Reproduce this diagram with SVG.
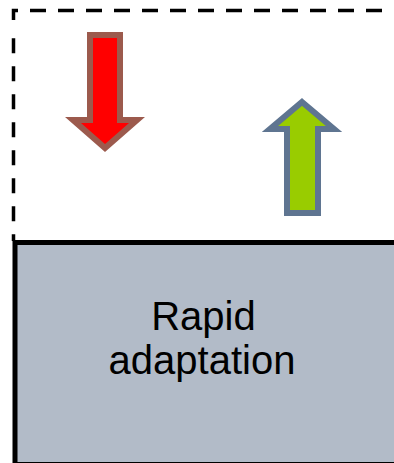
<svg xmlns="http://www.w3.org/2000/svg" width="394" height="463" viewBox="0 0 394 463">
<defs>
<style>
.dash{fill:none;stroke:#000;stroke-width:3.5}
.label{font-family:"Liberation Sans",Arial,sans-serif;font-size:40px;fill:#000;text-anchor:middle}
</style>
</defs>
<rect width="394" height="463" fill="#fff"/>
<g id="region-top">
<path class="dash" d="M13.5,20 V10.5 H18"/>
<line class="dash" x1="30" y1="10.5" x2="394" y2="10.5" stroke-dasharray="16 12"/>
<line class="dash" x1="13.5" y1="38.3" x2="13.5" y2="241" stroke-dasharray="15 13"/>
</g>
<g id="arrow-down">
<polygon points="90,35 120,35 120,120 137,120 105,148 73,120 90,120" fill="#ff0000" stroke="#9c5a4d" stroke-width="6"/>
</g>
<g id="arrow-up">
<polygon points="302,102 334,129 318,129 318,213 287,213 287,129 270,129" fill="#99cc00" stroke="#5f7591" stroke-width="6"/>
</g>
<g id="rapid-adaptation">
<rect x="15" y="242.5" width="400" height="222" fill="#b2bbc8" stroke="#000" stroke-width="5"/>
<text class="label" x="203.5" y="330">Rapid</text>
<text class="label" x="202" y="373.5">adaptation</text>
</g>
<g id="connectors"></g>
</svg>
